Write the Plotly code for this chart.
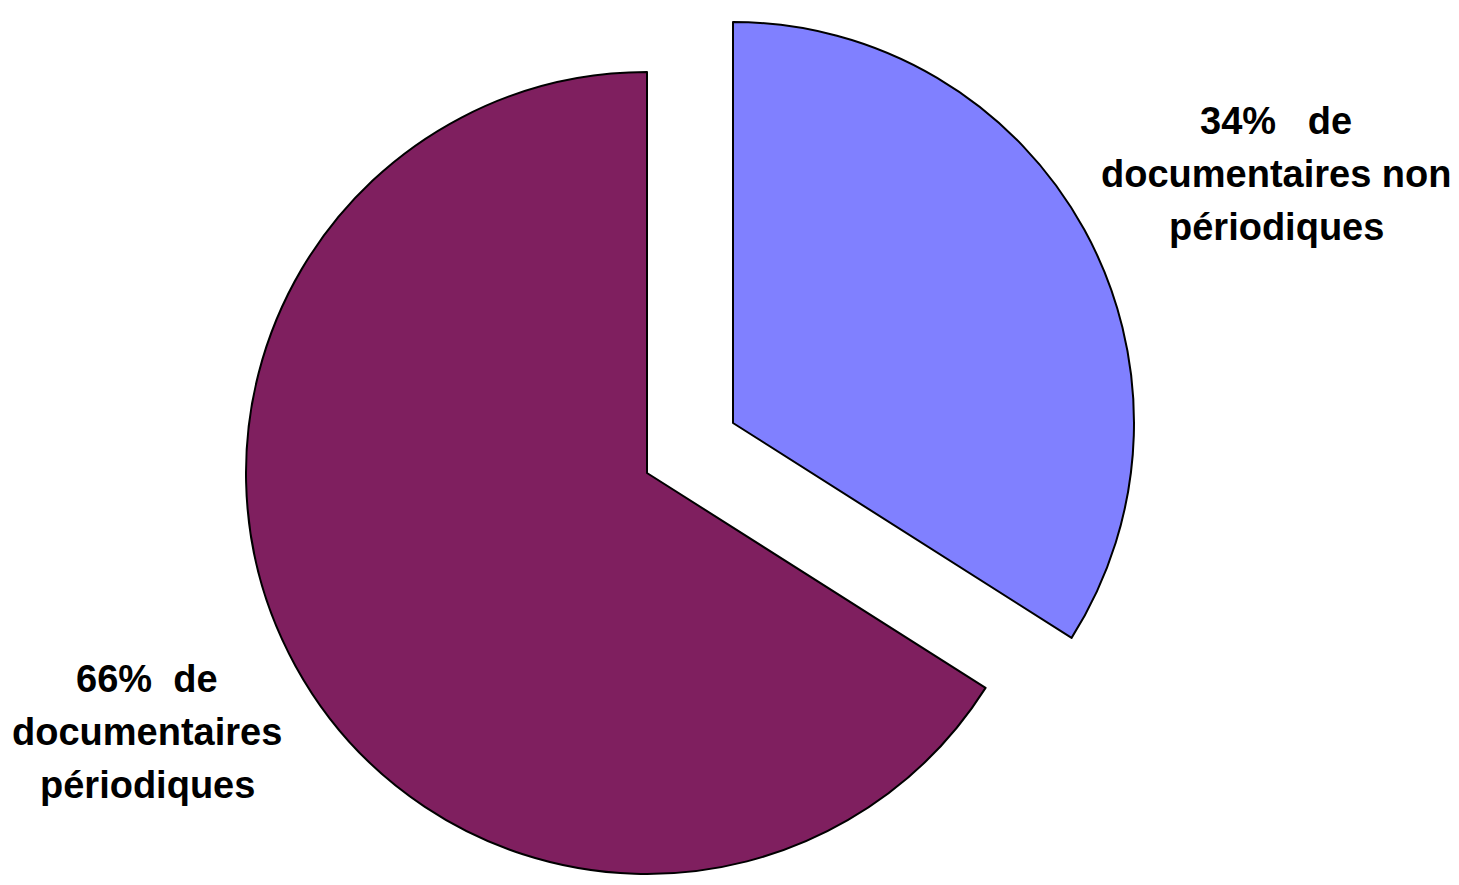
import plotly.graph_objects as go

# Data
categories = ["documentaires non périodiques", "documentaires périodiques"]
values = [34, 66]
label_lines = [
    ["34%   de", "documentaires non", "périodiques"],
    ["66%  de", "documentaires", "périodiques"],
]

# page has an 8px body margin; figure sized to fit the window
M = 8
W, H = 1459 - 2 * M, 885 - 2 * M
colors = ["#8080FF", "#7F1F5F"]
R = 401

def dom(cx, cy):
    cx -= M
    cy -= M
    return dict(x=[(cx - R) / W, (cx + R) / W],
                y=[max(0, (H - cy - R) / H), min(1, (H - cy + R) / H)])

fig = go.Figure()
# main (unpulled) slice: periodiques
fig.add_trace(go.Pie(
    labels=categories, values=values, sort=False, direction="clockwise", rotation=0,
    marker=dict(colors=["rgba(0,0,0,0)", colors[1]],
                line=dict(color=["rgba(0,0,0,0)", "black"], width=[0, 2])),
    textinfo="none", hoverinfo="label+percent", domain=dom(647, 473), showlegend=False))
# exploded slice: non periodiques
fig.add_trace(go.Pie(
    labels=categories, values=values, sort=False, direction="clockwise", rotation=0,
    marker=dict(colors=[colors[0], "rgba(0,0,0,0)"],
                line=dict(color=["black", "rgba(0,0,0,0)"], width=[2, 0])),
    textinfo="none", hoverinfo="label+percent", domain=dom(733, 423), showlegend=False))

anns = []
label_pos = [(1276, [121, 174, 227]), (147, [679, 732, 785])]
for lines, (cx, ys) in zip(label_lines, label_pos):
    for t, y in zip(lines, ys):
        anns.append(dict(text=t, x=(cx - M) / W, y=1 - (y - M) / H, xref="paper", yref="paper",
                         xanchor="center", yanchor="middle", showarrow=False,
                         font=dict(family="Liberation Sans, Arial", size=38, color="black", weight="bold")))

fig.update_layout(width=W, height=H, margin=dict(l=0, r=0, t=0, b=0),
                  paper_bgcolor="white", plot_bgcolor="white", annotations=anns)
fig.write_html("out.html")
